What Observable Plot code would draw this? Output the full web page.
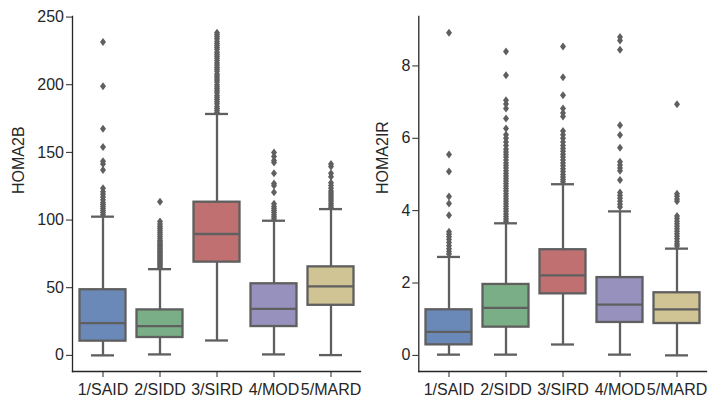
<!DOCTYPE html>
<html>
<head>
<meta charset="utf-8">
<script src="https://cdn.jsdelivr.net/npm/d3@7"></script>
<script src="https://cdn.jsdelivr.net/npm/@observablehq/plot@0.6"></script>
<style>
  body { margin: 0; background: #fff; }
  #wrap { position: relative; width: 708px; height: 404px; background: #fff; }
  #wrap svg { position: absolute; top: 0; }
</style>
</head>
<body>
<div id="wrap"></div>
<script>
// ---- data ----
const categories = ["1/SAID", "2/SIDD", "3/SIRD", "4/MOD", "5/MARD"];
const colors = ["#6a89b8", "#7aae86", "#c07071", "#9791be", "#d0c394"];

// HOMA2B (left panel)
const homa2bLow  = [0, 0.7, 11, 0.7, 0.2];
const homa2bQ1   = [10.5, 13.2, 68.9, 21.3, 37];
const homa2bMed  = [23.8, 21.6, 89.7, 34.3, 51];
const homa2bQ3   = [48.5, 33.6, 113.2, 52.9, 65.4];
const homa2bHigh = [102.5, 63.7, 178.4, 99.5, 108.1];
const homa2bOutliers = [
  [231.5, 198.8, 167.4, 154, 143.5, 141.5, 137, 123.5, 121, 119, 117, 115, 113, 111.5, 110, 108.5, 107, 105.5, 104],
  [113.5, 99, 97, 95.5, 94, 92.5, 91, 89.5, 88, 86.5, 85, 84, 83, 82, 81, 80, 79, 78, 77, 76, 75, 74, 73, 72, 71, 70, 69, 68, 67, 66, 65],
  [238.5, 237, 235.5, 234, 232, 230.5, 229, 227.5, 226, 224, 222.5, 221, 219.5, 218, 216, 214.5, 213, 211.5, 210, 208, 206.5, 205, 203.5, 202, 200, 198.5, 197, 195.5, 194, 192, 190.5, 189, 187.5, 186, 184, 182.5, 181, 179.5],
  [150, 147, 144, 142.5, 134.5, 127, 125.5, 120.5, 112, 110, 108.5, 107, 105.5, 104, 102.5, 101],
  [141.5, 139.5, 134.5, 132, 127.5, 125.5, 123.5, 121.5, 120, 118.5, 117, 115.5, 114, 112.5, 111, 109.5]
];
const homa2bTicks = [0, 50, 100, 150, 200, 250];

// HOMA2IR (right panel)
const homa2irLow  = [0.02, 0.02, 0.30, 0.02, 0.0];
const homa2irQ1   = [0.29, 0.78, 1.70, 0.91, 0.88];
const homa2irMed  = [0.65, 1.31, 2.21, 1.40, 1.27];
const homa2irQ3   = [1.26, 1.96, 2.92, 2.15, 1.73];
const homa2irHigh = [2.72, 3.65, 4.73, 3.98, 2.95];
const homa2irOutliers = [
  [8.92, 5.55, 5.08, 4.39, 4.2, 3.87, 3.42, 3.35, 3.28, 3.2, 3.12, 3.03, 2.95, 2.87, 2.8],
  [8.4, 7.74, 7.05, 6.95, 6.82, 6.55, 6.27, 6.1, 6.0, 5.9, 5.8, 5.7, 5.62, 5.55, 5.48, 5.4, 5.32, 5.25, 5.18, 5.1, 5.03, 4.96, 4.89, 4.82, 4.75, 4.68, 4.61, 4.54, 4.47, 4.4, 4.33, 4.26, 4.19, 4.12, 4.05, 3.98, 3.91, 3.84, 3.77, 3.71],
  [8.54, 7.69, 7.19, 6.82, 6.7, 6.6, 6.2, 6.1, 6.0, 5.9, 5.8, 5.72, 5.64, 5.56, 5.48, 5.4, 5.32, 5.24, 5.16, 5.08, 5.0, 4.93, 4.86, 4.8],
  [8.8, 8.7, 8.45, 6.36, 6.09, 5.74, 5.35, 5.26, 5.18, 5.1, 4.85, 4.5, 4.42, 4.34, 4.26, 4.18, 4.1],
  [6.94, 4.47, 4.4, 4.32, 4.26, 3.85, 3.78, 3.71, 3.64, 3.57, 3.5, 3.43, 3.36, 3.29, 3.22, 3.15, 3.08, 3.02]
];
const homa2irTicks = [0, 2, 4, 6, 8];

// ---- drawing ----
const lineColor = "#5f5f5f";
const axisColor = "#262626";
const fontFamily = "'Liberation Sans', Arial, sans-serif";

const thinDiamond = {
  draw(ctx, size) {
    const a = Math.sqrt(size / Math.PI);
    ctx.moveTo(0, -a);
    ctx.lineTo(0.75 * a, 0);
    ctx.lineTo(0, a);
    ctx.lineTo(-0.75 * a, 0);
    ctx.closePath();
  }
};

function panel(o) {
  const boxes = categories.map((c, i) => ({
    cat: c, low: o.low[i], q1: o.q1[i], med: o.med[i], q3: o.q3[i], high: o.high[i], color: colors[i]
  }));
  const outs = categories.flatMap((c, i) => o.outliers[i].map(v => ({cat: c, v})));
  const all = boxes.flatMap(b => [b.low, b.high]).concat(outs.map(d => d.v));
  const [mn, mx] = d3.extent(all);
  const m = (mx - mn) * 0.05;
  const boxInset = 5.5, capInset = 17;
  const sw = 2.3;
  const svg = Plot.plot({
    width: o.width,
    height: 404,
    marginLeft: o.marginLeft,
    marginRight: o.marginRight,
    marginTop: 16,
    marginBottom: 33,
    style: {background: "transparent", fontFamily, fontSize: "16px", color: axisColor, overflow: "visible"},
    x: {type: "band", domain: categories, padding: 0},
    y: {domain: [mn - m, mx + m]},
    marks: [
      Plot.ruleX(boxes, {x: "cat", y1: "low", y2: "q1", stroke: lineColor, strokeWidth: sw}),
      Plot.ruleX(boxes, {x: "cat", y1: "q3", y2: "high", stroke: lineColor, strokeWidth: sw}),
      Plot.tickY(boxes, {x: "cat", y: "low", stroke: lineColor, strokeWidth: sw, insetLeft: capInset, insetRight: capInset}),
      Plot.tickY(boxes, {x: "cat", y: "high", stroke: lineColor, strokeWidth: sw, insetLeft: capInset, insetRight: capInset}),
      Plot.barY(boxes, {x: "cat", y1: "q1", y2: "q3", fill: "color", stroke: lineColor, strokeWidth: sw, insetLeft: boxInset, insetRight: boxInset}),
      Plot.tickY(boxes, {x: "cat", y: "med", stroke: lineColor, strokeWidth: sw, insetLeft: boxInset, insetRight: boxInset}),
      Plot.dot(outs, {x: "cat", y: "v", symbol: thinDiamond, r: 4, fill: lineColor, stroke: "none"}),
      Plot.axisX({tickSize: 6, tickPadding: 6, label: null, stroke: axisColor, fill: axisColor, fontSize: 16}),
      Plot.axisY({ticks: o.ticks, tickSize: 6, tickPadding: 2.5, tickFormat: d => String(d), label: null, stroke: axisColor, fill: axisColor, fontSize: 16}),
      Plot.text([o.label], {text: d => d, frameAnchor: "left", rotate: -90, dx: o.labelDx, fill: axisColor, fontSize: 16, fontFamily}),
      Plot.frame({anchor: "left", stroke: axisColor, strokeWidth: 1.3}),
      Plot.frame({anchor: "bottom", stroke: axisColor, strokeWidth: 1.3})
    ]
  });
  svg.style.left = o.left + "px";
  return svg;
}

const wrap = document.getElementById("wrap");
wrap.appendChild(panel({
  label: "HOMA2B", low: homa2bLow, q1: homa2bQ1, med: homa2bMed, q3: homa2bQ3, high: homa2bHigh,
  outliers: homa2bOutliers, ticks: homa2bTicks, width: 360, marginLeft: 72, marginRight: 0, labelDx: -53.5, left: 0
}));
wrap.appendChild(panel({
  label: "HOMA2IR", low: homa2irLow, q1: homa2irQ1, med: homa2irMed, q3: homa2irQ3, high: homa2irHigh,
  outliers: homa2irOutliers, ticks: homa2irTicks, width: 354, marginLeft: 64.3, marginRight: 2, labelDx: -35.5, left: 354
}));
</script>
</body>
</html>
